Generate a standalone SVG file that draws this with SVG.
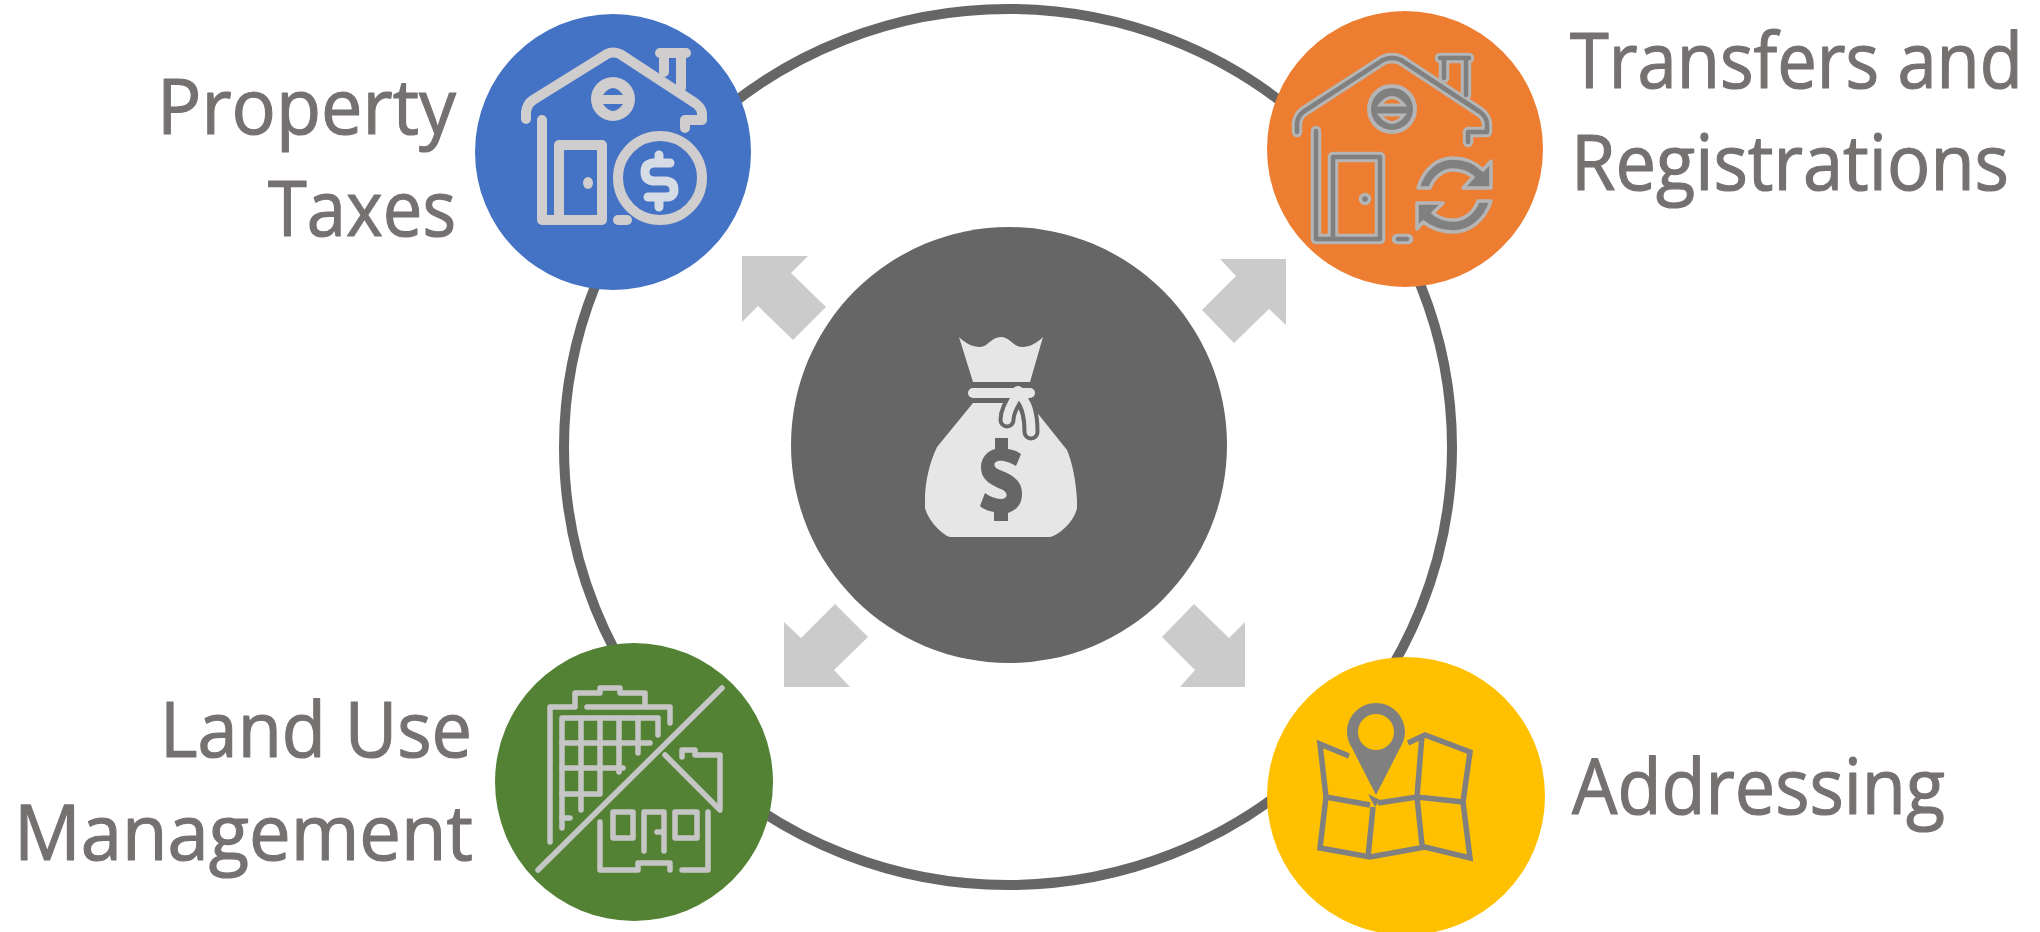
<svg xmlns="http://www.w3.org/2000/svg" width="2040" height="932" viewBox="0 0 2040 932">
<style>
.lbl{font-family:"Open Sans","Noto Sans",sans-serif;font-size:77px;fill:#767171;stroke:#767171;stroke-width:1.2;stroke-linejoin:round}
.ic{fill:none;stroke:#cfcdcd;stroke-width:10;stroke-linecap:round;stroke-linejoin:round}
.gr{fill:none;stroke:#c6c6c6;stroke-width:5.5;stroke-linecap:round;stroke-linejoin:round}
.lt{fill:none;stroke:#b5b5b5;stroke-width:10.5;stroke-linecap:round;stroke-linejoin:round}
.dk{fill:none;stroke:#808080;stroke-width:4.5;stroke-linecap:round;stroke-linejoin:round}
.sh{fill:#808080;stroke:#b5b5b5;stroke-width:3.5;stroke-linejoin:round}
.map{fill:none;stroke:#808080;stroke-width:5.5;stroke-linejoin:miter}
.arr{fill:#cbcbcb}
</style>
<rect width="2040" height="932" fill="#fff"/>
<g id="connectors">
<ellipse cx="1008" cy="447" rx="444" ry="438" fill="none" stroke="#666" stroke-width="10"/>
<polygon class="arr" points="742,256 808,256 791,273 826,307 793,340 758,306 742,322"/>
<polygon class="arr" points="1220,259 1286,259 1286,325 1269,309 1234,343 1202,310 1236,276"/>
<polygon class="arr" points="784,622 801,638 835,604 868,637 834,670 850,687 784,687"/>
<polygon class="arr" points="1194,604 1229,638 1245,622 1245,687 1180,687 1195,670 1162,637"/>
</g>
<g id="center"><circle cx="1009" cy="445" r="218" fill="#666"/>
<path d="M959,337 C965,343 972,347 980,347 C988,347 991,337 1001,337 C1010,337 1013,347 1022,347 C1030,347 1037,343 1043,337 L1030,382 H973 Z" fill="#e6e6e6"/>
<path d="M973,403 L937,447 C930,462 925,480 925,500 V508 C928,520 942,535 950,537 H1050 C1060,535 1075,520 1077,508 V500 C1076,480 1072,462 1067,450 L1039,415 L1030,403 Z" fill="#e6e6e6"/>
<path d="M1018,396 C1011,404 1007,412 1007,420 M1019,396 C1027,402 1031,412 1031,432" fill="none" stroke="#666" stroke-width="17" stroke-linecap="round"/>
<rect x="968" y="388" width="67" height="10" rx="5" fill="#e6e6e6"/>
<circle cx="1018" cy="392" r="6" fill="#e6e6e6"/>
<path d="M1018,394 C1011,404 1007,412 1007,420 M1019,394 C1027,402 1031,412 1031,432" fill="none" stroke="#e6e6e6" stroke-width="9" stroke-linecap="round"/>
<path d="M995,438 H1008 V449 C1014,450 1019,452 1021,454 L1016,466 C1011,463 1004,460 998,461 C992,463 994,468 1000,470 C1012,475 1022,480 1022,494 C1022,505 1016,510 1008,513 V521 H994 V512 C988,511 983,509 980,506 L985,493 C990,497 997,499 1002,499 C1008,498 1008,493 1003,490 C992,485 981,481 981,467 C981,458 987,451 995,449 Z" fill="#666"/>
</g>
<g id="property-taxes"><circle cx="613" cy="152" r="138" fill="#4472c4"/>
<path class="ic" d="M526,119 V112 Q527,104 533,100 L607,54 Q613,51 620,54 L695,103 Q702,108 702,114 V120 H685 V128"/>
<path class="ic" d="M660,53 H686 M664,53 V72 M681,53 V88"/>
<path class="ic" d="M542,120 V220 H602 V145 H559 V220"/>
<circle cx="613" cy="99" r="22" fill="#cfcdcd"/>
<path d="M603,95 Q613,81 623,95 Z M603,104 Q613,118 623,104 Z" fill="#4472c4"/>
<ellipse cx="588" cy="183" rx="5" ry="6" fill="#cfcdcd"/>
<circle cx="660" cy="178" r="42" fill="none" stroke="#cfcdcd" stroke-width="10"/>
<path class="ic" d="M618,220 H627"/>
<path d="M670,163 H653 Q645,164 645,172 Q645,180 653,181 H666 Q674,182 674,190 Q674,197 666,197 H648 M659,155 V163 M659,197 V207" fill="none" stroke="#d6dce5" stroke-width="9" stroke-linecap="round" stroke-linejoin="round"/>
</g>
<g id="transfers"><circle cx="1405" cy="149" r="138" fill="#ed7d31"/>
<path class="lt" d="M1297,132 V123 Q1298,116 1303,112 L1383,60 Q1392,56 1401,60 L1480,112 Q1487,117 1487,125 V132 H1468 V142"/>
<path class="lt" d="M1440,58 H1469 M1444,58 V78 M1466,58 V95"/>
<path class="lt" d="M1316,131 V239 H1380 V157 H1333 V239"/>
<path class="dk" d="M1297,132 V123 Q1298,116 1303,112 L1383,60 Q1392,56 1401,60 L1480,112 Q1487,117 1487,125 V132 H1468 V142"/>
<path class="dk" d="M1440,58 H1469 M1444,58 V78 M1466,58 V95"/>
<path class="dk" d="M1316,131 V239 H1380 V157 H1333 V239"/>
<circle cx="1392" cy="109" r="23" fill="#808080" stroke="#b5b5b5" stroke-width="4"/>
<path d="M1380,105 Q1392,90 1404,105 Z M1380,115 Q1392,130 1404,115 Z" fill="#ed7d31" stroke="#b5b5b5" stroke-width="3"/>
<circle cx="1365" cy="199" r="4.5" fill="#808080" stroke="#b5b5b5" stroke-width="3.5"/>
<path class="lt" d="M1397,239 H1408"/><path class="dk" d="M1398,239 H1407"/>
<path class="sh" d="M1418,188 C1424,168 1438,158 1453,158 C1465,158 1476,163 1483,170 L1491,161 V188 H1463 L1473,177 C1467,172 1460,170 1453,170 C1443,170 1434,177 1430,188 Z"/>
<path class="sh" d="M1491,201 C1485,220 1470,232 1453,232 C1441,232 1431,228 1423,222 L1417,229 V203 H1443 L1433,213 C1439,218 1446,220 1453,220 C1465,220 1474,212 1478,201 Z"/>
</g>
<g id="land-use"><circle cx="634" cy="782" r="139" fill="#548235"/>
<g class="gr"><path d="M538,870 L722,688"/>
<path d="M550,842 V707 H575 V693 H600 V688 H620 V693 H645 V703"/>
<path d="M587,707 H670 V723"/>
<path d="M562,828 V718 H658 V735"/>
<path d="M562,743 H650 M562,768 H623 M562,794 H598"/>
<path d="M581,718 V810 M600,718 V794 M619,718 V772 M638,718 V753"/>
<path d="M562,818 H570"/>
<path d="M665,755 L720,810 V755 H695 V750 H682 V757"/>
<path d="M600,822 V870 H638 V863 H670 V870"/>
<path d="M682,870 H708 V812"/>
<path d="M613,812 H633 V838 H613 Z M675,812 H697 V838 H675 Z"/>
<path d="M644,851 V812 H664 V851 M657,832 H664"/>
</g></g>
<g id="addressing"><circle cx="1406" cy="796" r="139" fill="#ffc000"/>
<path fill-rule="evenodd" fill="#808080" d="M1376,703 C1392,703 1405,716 1405,732 C1405,738 1403,743 1400,748 L1376,795 L1352,748 C1349,743 1347,738 1347,732 C1347,716 1360,703 1376,703 Z M1376,714 A18,18 0 1 0 1376,750 A18,18 0 1 0 1376,714 Z"/>
<g class="map"><path d="M1349,756 L1320,744 L1326,797 L1320,848 L1370,857 L1425,847 L1470,858 L1463,802 L1470,752 L1425,735 L1408,743"/>
<path d="M1326,797 L1370,805 M1378,803 L1417,797 L1463,802 M1373,807 L1368,857 M1422,735 L1417,797 L1422,845"/></g>
<path d="M1368,794 L1375,807 L1380,800 Z" fill="#808080"/>
</g>
<g id="labels">
<text class="lbl" x="157" y="134" textLength="299" lengthAdjust="spacingAndGlyphs">Property</text>
<text class="lbl" x="268" y="236" textLength="188" lengthAdjust="spacingAndGlyphs">Taxes</text>
<text class="lbl" transform="translate(1570,88) scale(.915,1)" x="0" y="0">Transfers and</text>
<text class="lbl" x="1571" y="190" textLength="438" lengthAdjust="spacingAndGlyphs">Registrations</text>
<text class="lbl" x="160" y="757" textLength="312" lengthAdjust="spacingAndGlyphs">Land Use</text>
<text class="lbl" x="14" y="860" textLength="459" lengthAdjust="spacingAndGlyphs">Management</text>
<text class="lbl" x="1572" y="814" textLength="373" lengthAdjust="spacingAndGlyphs">Addressing</text>
</g>
</svg>
